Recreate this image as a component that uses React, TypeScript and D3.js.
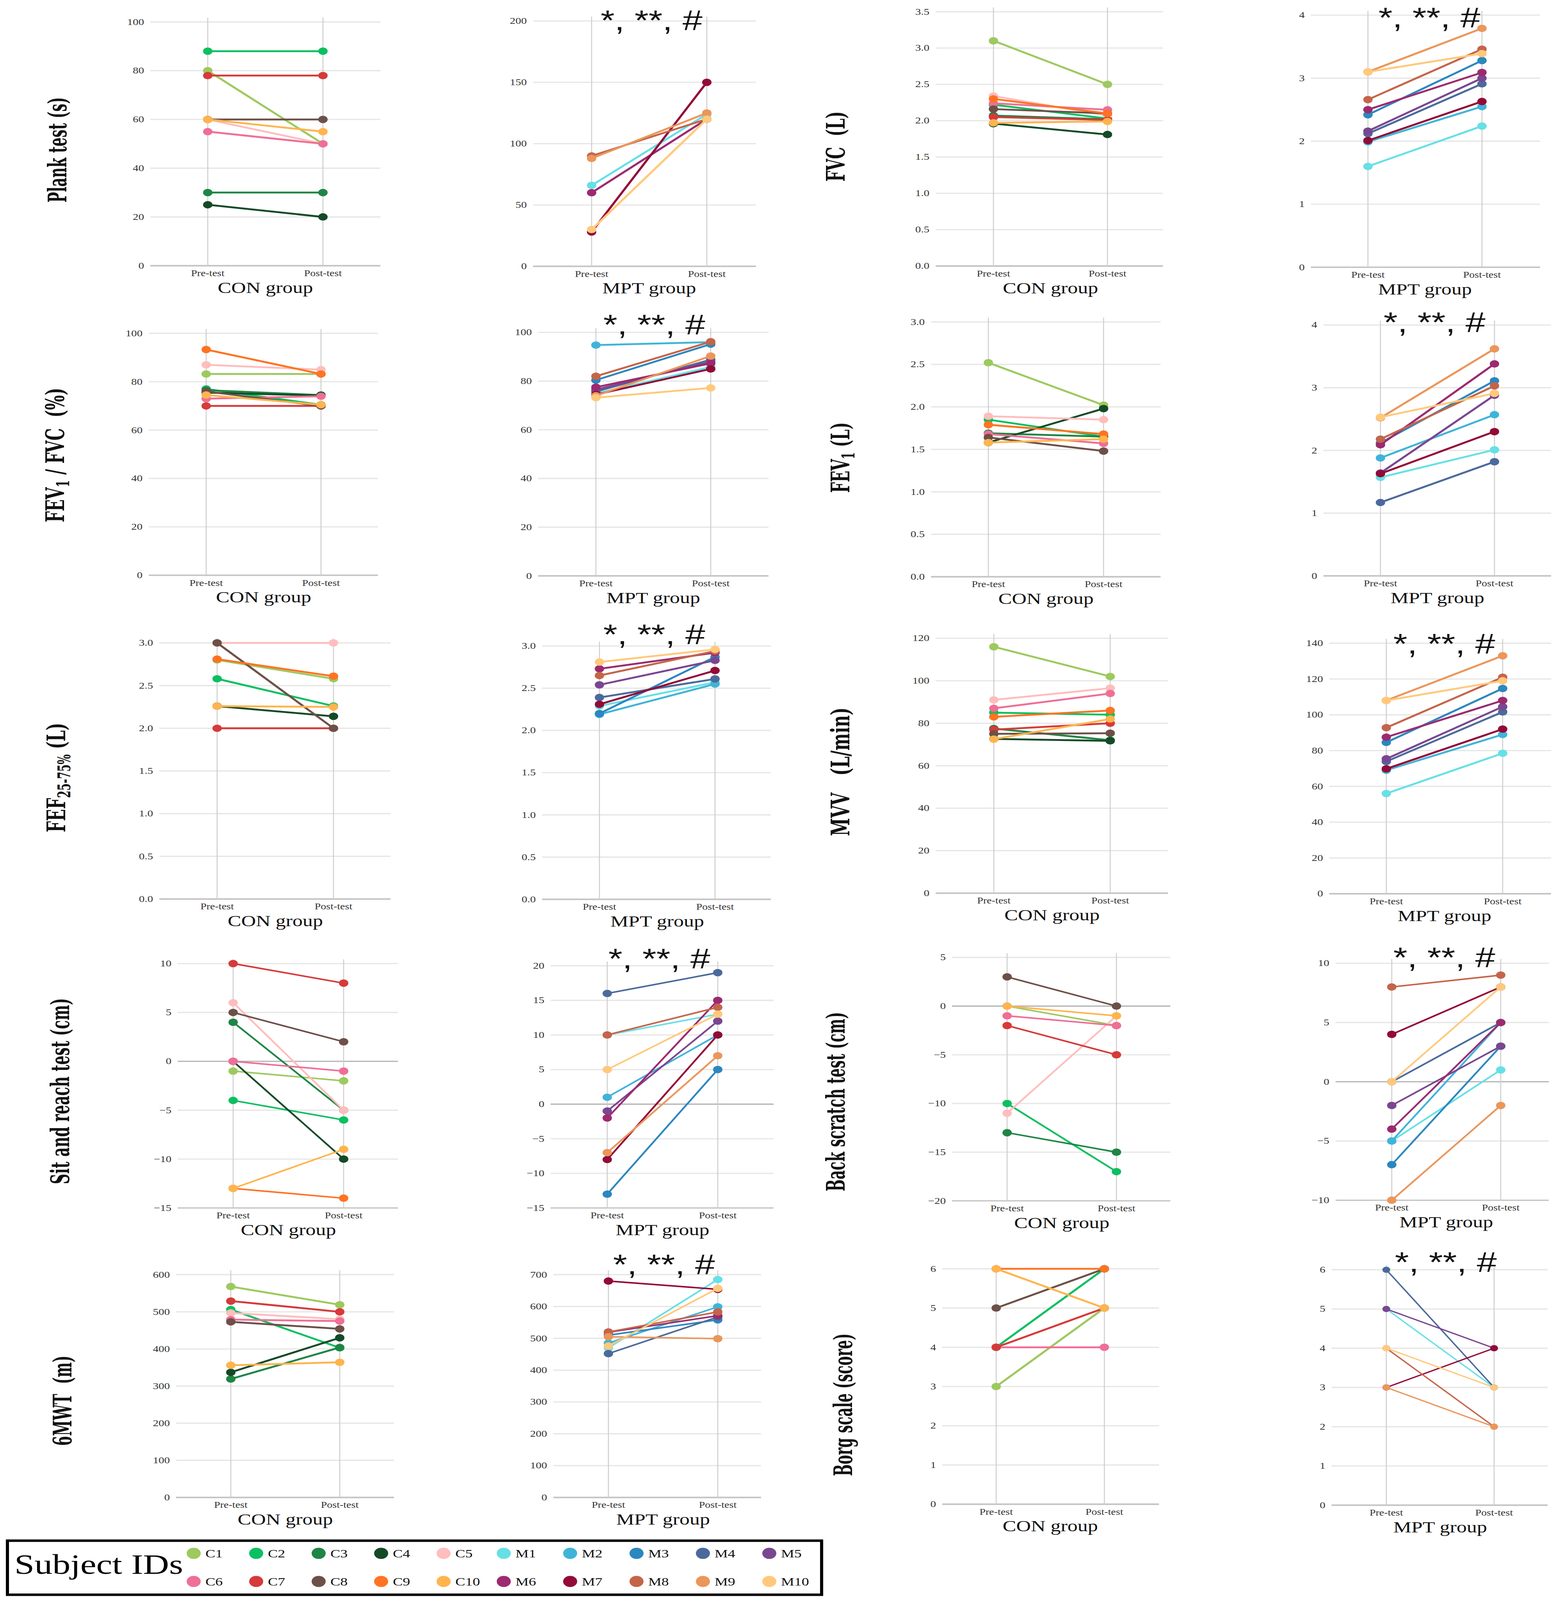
import React, { useEffect, useState } from "react";
import * as d3 from "d3";

// ---------- DATA ----------
const conIds = ["C1", "C2", "C3", "C4", "C5", "C6", "C7", "C8", "C9", "C10"];
const mptIds = ["M1", "M2", "M3", "M4", "M5", "M6", "M7", "M8", "M9", "M10"];
const timeLabels = ["Pre-test", "Post-test"];

const conColors = ["#9dc95e", "#0cbf60", "#1f8545", "#154a27", "#ffbdbd", "#ef6f96", "#d63a3a", "#6d5048", "#ff7322", "#ffb44d"];
const mptColors = ["#66e0e6", "#40b4d8", "#2b87bf", "#4b6a9b", "#7a4690", "#9c2a70", "#930a37", "#c4654a", "#eb965b", "#ffc97c"];

type V = number | null;

const plankConPre: V[] = [80, 88, 30, 25, 60, 55, 78, 60, null, 60];
const plankConPost: V[] = [50, 88, 30, 20, 50, 50, 78, 60, null, 55];
const plankMptPre: V[] = [66, null, null, null, null, 60, 28, 90, 88, 30];
const plankMptPost: V[] = [124, null, null, null, null, 120, 150, 120, 125, 120];

const fvcConPre: V[] = [3.1, 2.22, 2.07, 1.96, 2.34, 2.24, 2.05, 2.16, 2.3, 1.97];
const fvcConPost: V[] = [2.5, 2.03, 2.02, 1.81, 2.07, 2.15, 2.01, 2.1, 2.1, 1.99];
const fvcMptPre: V[] = [1.6, 1.99, 2.42, 2.12, 2.16, 2.5, 2.01, 2.66, 3.1, 3.1];
const fvcMptPost: V[] = [2.24, 2.55, 3.28, 2.91, 3.0, 3.09, 2.63, 3.46, 3.79, 3.39];

const ratioConPre: V[] = [83.2, 77, 76.5, 75.5, 87, 73, 70, 76, 93.3, 74.5];
const ratioConPost: V[] = [83.2, 70.5, 74.5, 74.3, 85, 74, 70, 70, 83.2, 70.5];
const ratioMptPre: V[] = [74.9, 94.8, 80.4, 75.7, 76.5, 77.5, 74.5, 82, 74, 73.2];
const ratioMptPost: V[] = [85.8, 96, 95.2, 88.8, 87.9, 87.3, 85, 96.2, 90.3, 77.2];

const fev1ConPre: V[] = [2.52, 1.85, 1.69, 1.58, 1.89, 1.68, null, 1.64, 1.79, 1.58];
const fev1ConPost: V[] = [2.02, 1.65, 1.65, 1.98, 1.85, 1.57, null, 1.48, 1.68, 1.62];
const fev1MptPre: V[] = [1.57, 1.88, 2.12, 1.17, 1.64, 2.09, 1.63, 2.18, 2.52, 2.53];
const fev1MptPost: V[] = [2.01, 2.57, 3.11, 1.82, 2.88, 3.38, 2.3, 3.03, 3.62, 2.91];

const fefConPre: V[] = [2.8, 2.58, null, 2.26, 3.0, null, 2.0, 3.0, 2.81, 2.26];
const fefConPost: V[] = [2.58, 2.26, null, 2.14, 3.0, null, 2.0, 2.0, 2.61, 2.25];
const fefMptPre: V[] = [2.29, 2.19, 2.2, 2.39, 2.54, 2.73, 2.31, 2.65, null, 2.81];
const fefMptPost: V[] = [2.57, 2.55, 2.87, 2.61, 2.83, 2.92, 2.71, 2.94, null, 2.96];

const mvvConPre: V[] = [116, 85, 77.5, 72.6, 91, 87, 77, 75, 83, 72.5];
const mvvConPost: V[] = [102, 84, 72, 71.7, 96.5, 94, 80, 75.3, 86, 82];
const mvvMptPre: V[] = [56, 69, 84.6, 73.9, 75.4, 87.5, 69.8, 92.8, 108, 108];
const mvvMptPost: V[] = [78.5, 89, 114.7, 101.6, 104.5, 108, 92, 121, 133, 119];

const srConPre: V[] = [-1, -4, 4, 0, 6, 0, 10, 5, -13, -13];
const srConPost: V[] = [-2, -6, -5, -10, -5, -1, 8, 2, -14, -9];
const srMptPre: V[] = [10, 1, -13, 16, -1, -2, -8, 10, -7, 5];
const srMptPost: V[] = [13, 10, 5, 19, 12, 15, 10, 14, 7, 13];

const bsConPre: V[] = [0, -10, -13, null, -11, -1, -2, 3, null, 0];
const bsConPost: V[] = [-2, -17, -15, null, -1, -2, -5, 0, null, -1];
const bsMptPre: V[] = [-5, -5, -7, 0, -2, -4, 4, 8, -10, 0];
const bsMptPost: V[] = [1, 5, 3, 5, 3, 5, 8, 9, -2, 8];

const mwtConPre: V[] = [568, 506, 319, 337, 497, 479, 529, 473, null, 356];
const mwtConPost: V[] = [519, 403, 404, 430, 480, 475, 500, 454, null, 364];
const mwtMptPre: V[] = [470, 485, 510, 452, null, 519, 680, 520, 505, 476];
const mwtMptPost: V[] = [685, 599, 558, 567, null, 571, 654, 583, 499, 657];

const borgConPre: V[] = [3, 4, null, null, null, 4, 4, 5, 6, 6];
const borgConPost: V[] = [5, 6, null, null, null, 4, 5, 6, 6, 5];
const borgMptPre: V[] = [5, null, null, 6, 5, null, 3, 4, 3, 4];
const borgMptPost: V[] = [3, null, null, 3, 4, null, 4, 2, 2, 3];

const annotationText = "*, **, #";

// ---------- LAYOUT (reference canvas 3982 x 5179) ----------
const W0 = 3982;
const H0 = 5179;

type PanelCfg = {
  ids: string[]; colors: string[]; pre: V[]; post: V[];
  domain: [number, number]; step: number; dec: number;
  x0: number; x1: number; xPre: number; xPost: number; yTop: number; yBottom: number;
  group: string; ann?: [number, number]; lw?: number; r?: number;
};

const C = { ids: conIds, colors: conColors, group: "CON group" };
const M = { ids: mptIds, colors: mptColors, group: "MPT group" };

const panels: PanelCfg[] = [
  { ...C, pre: plankConPre, post: plankConPost, domain: [0, 100], step: 20, dec: 0, x0: 385, x1: 974, xPre: 532, xPost: 827, yTop: 71, yBottom: 860 },
  { ...M, pre: plankMptPre, post: plankMptPost, domain: [0, 200], step: 50, dec: 0, x0: 1365, x1: 1936, xPre: 1515, xPost: 1810, yTop: 68, yBottom: 862, ann: [23, 29] },
  { ...C, pre: fvcConPre, post: fvcConPost, domain: [0, 3.5], step: 0.5, dec: 1, x0: 2396, x1: 2978, xPre: 2544, xPost: 2836, yTop: 38, yBottom: 861 },
  { ...M, pre: fvcMptPre, post: fvcMptPost, domain: [0, 4], step: 1, dec: 0, x0: 3357, x1: 3944, xPre: 3503, xPost: 3795, yTop: 49, yBottom: 865, ann: [27, 39] },

  { ...C, pre: ratioConPre, post: ratioConPost, domain: [0, 100], step: 20, dec: 0, x0: 381, x1: 968, xPre: 528, xPost: 822, yTop: 1079, yBottom: 1862 },
  { ...M, pre: ratioMptPre, post: ratioMptPost, domain: [0, 100], step: 20, dec: 0, x0: 1378, x1: 1968, xPre: 1526, xPost: 1820, yTop: 1076, yBottom: 1864, ann: [19, 6] },
  { ...C, pre: fev1ConPre, post: fev1ConPost, domain: [0, 3], step: 0.5, dec: 1, x0: 2384, x1: 2972, xPre: 2531, xPost: 2826, yTop: 1042, yBottom: 1867 },
  { ...M, pre: fev1MptPre, post: fev1MptPost, domain: [0, 4], step: 1, dec: 0, x0: 3389, x1: 3972, xPre: 3535, xPost: 3827, yTop: 1052, yBottom: 1864, ann: [8, 23] },

  { ...C, pre: fefConPre, post: fefConPost, domain: [0, 3], step: 0.5, dec: 1, x0: 408, x1: 1000, xPre: 556, xPost: 854, yTop: 2081, yBottom: 2910 },
  { ...M, pre: fefMptPre, post: fefMptPost, domain: [0, 3], step: 0.5, dec: 1, x0: 1388, x1: 1974, xPre: 1535, xPost: 1831, yTop: 2091, yBottom: 2911, ann: [10, -6] },
  { ...C, pre: mvvConPre, post: mvvConPost, domain: [0, 120], step: 20, dec: 0, x0: 2396, x1: 2991, xPre: 2545, xPost: 2843, yTop: 2066, yBottom: 2891 },
  { ...M, pre: mvvMptPre, post: mvvMptPost, domain: [0, 140], step: 20, dec: 0, x0: 3404, x1: 3972, xPre: 3550, xPost: 3848, yTop: 2082, yBottom: 2893, ann: [18, 33] },

  { ...C, pre: srConPre, post: srConPost, domain: [-15, 10], step: 5, dec: 0, x0: 455, x1: 1019, xPre: 597, xPost: 880, yTop: 3119, yBottom: 3910, lw: 5 },
  { ...M, pre: srMptPre, post: srMptPost, domain: [-15, 20], step: 5, dec: 0, x0: 1410, x1: 1981, xPre: 1555, xPost: 1838, yTop: 3126, yBottom: 3910, ann: [3, 9], lw: 5 },
  { ...C, pre: bsConPre, post: bsConPost, domain: [-20, 5], step: 5, dec: 0, x0: 2438, x1: 2997, xPre: 2579, xPost: 2859, yTop: 3099, yBottom: 3887, lw: 5 },
  { ...M, pre: bsMptPre, post: bsMptPost, domain: [-10, 10], step: 5, dec: 0, x0: 3420, x1: 3966, xPre: 3564, xPost: 3843, yTop: 3118, yBottom: 3885, ann: [4, 13], lw: 5 },

  { ...C, pre: mwtConPre, post: mwtConPost, domain: [0, 600], step: 100, dec: 0, x0: 451, x1: 1009, xPre: 591, xPost: 870, yTop: 4126, yBottom: 4847 },
  { ...M, pre: mwtMptPre, post: mwtMptPost, domain: [0, 700], step: 100, dec: 0, x0: 1417, x1: 1949, xPre: 1558, xPost: 1838, yTop: 4126, yBottom: 4847, ann: [12, -2], lw: 5 },
  { ...C, pre: borgConPre, post: borgConPost, domain: [0, 6], step: 1, dec: 0, x0: 2413, x1: 2968, xPre: 2551, xPost: 2828, yTop: 4107, yBottom: 4869 },
  { ...M, pre: borgMptPre, post: borgMptPost, domain: [0, 6], step: 1, dec: 0, x0: 3410, x1: 3963, xPre: 3550, xPost: 3826, yTop: 4110, yBottom: 4872, ann: [22, 7], lw: 4, r: 10 },
];

type TitleCfg = { cx: number; cy: number; len: number; parts: { t: string; sub?: boolean }[] };
const titles: TitleCfg[] = [
  { cx: 147, cy: 485, len: 341, parts: [{ t: "Plank test (s)" }] },
  { cx: 2140, cy: 474, len: 227, parts: [{ t: "FVC\u00a0\u00a0(L)" }] },
  { cx: 141, cy: 1473, len: 435, parts: [{ t: "FEV" }, { t: "1", sub: true }, { t: " / FVC\u00a0\u00a0(%)" }] },
  { cx: 2152, cy: 1481, len: 228, parts: [{ t: "FEV" }, { t: "1", sub: true }, { t: " (L)" }] },
  { cx: 144, cy: 2517, len: 354, parts: [{ t: "FEF" }, { t: "25-75%", sub: true }, { t: " (L)" }] },
  { cx: 2152, cy: 2498, len: 416, parts: [{ t: "MVV\u00a0\u00a0\u00a0(L/min)" }] },
  { cx: 154, cy: 3532, len: 602, parts: [{ t: "Sit and reach test (cm)" }] },
  { cx: 2140, cy: 3566, len: 580, parts: [{ t: "Back scratch test (cm)" }] },
  { cx: 160, cy: 4534, len: 292, parts: [{ t: "6MWT\u00a0\u00a0(m)" }] },
  { cx: 2159, cy: 4547, len: 462, parts: [{ t: "Borg scale (score)" }] },
];

const SERIF = "'Liberation Serif', 'DejaVu Serif', serif";
const BOLDSERIF = "'DejaVu Serif', 'Liberation Serif', serif";

function Panel({ p }: { p: PanelCfg }) {
  const y = d3.scaleLinear().domain(p.domain).range([p.yBottom, p.yTop]);
  const x = d3.scalePoint<string>().domain(timeLabels).range([p.xPre, p.xPost]);
  const ticks = d3.range(p.domain[0], p.domain[1] + p.step / 2, p.step);
  const fmt = p.dec ? d3.format(".1f") : d3.format("d");
  const line = d3.line<[string, number]>().x((d) => x(d[0]) as number).y((d) => y(d[1]));
  const lw = p.lw ?? 6;
  const r = p.r ?? 12;
  const cxMid = ((x("Pre-test") as number) + (x("Post-test") as number)) / 2;
  const subjects = p.ids
    .map((id, i) => ({ id, color: p.colors[i], a: p.pre[i], b: p.post[i] }))
    .filter((s) => s.a != null && s.b != null);
  return (
    <g>
      {ticks.map((t) => (
        <line key={"g" + t} x1={p.x0} x2={p.x1} y1={y(t)} y2={y(t)}
          stroke={t === 0 && p.domain[0] < 0 ? "#b4b4b4" : t === p.domain[0] ? "#c4c4c4" : "#e6e6e6"}
          strokeWidth={t === p.domain[0] && p.domain[0] === 0 ? 5 : 4} />
      ))}
      {timeLabels.map((l) => (
        <line key={"v" + l} x1={x(l)} x2={x(l)} y1={p.yTop - 14} y2={p.yBottom} stroke="#cdcdcd" strokeWidth={2.5} />
      ))}
      {ticks.map((t) => (
        <text key={"t" + t} x={p.x0 - 16} y={y(t)} textAnchor="end" dominantBaseline="central"
          fontFamily={SERIF} fontSize={29} fill="#333">{fmt(t)}</text>
      ))}
      {timeLabels.map((l) => (
        <text key={"l" + l} x={x(l)} y={p.yBottom + 34} textAnchor="middle" fontFamily={SERIF} fontSize={28} fill="#333">{l}</text>
      ))}
      <text x={cxMid} y={p.yBottom + 88} textAnchor="middle" fontFamily={SERIF} fontSize={52} fill="#111">{p.group}</text>
      {subjects.map((s) => (
        <g key={s.id}>
          <path d={line([["Pre-test", s.a as number], ["Post-test", s.b as number]]) as string}
            fill="none" stroke={s.color} strokeWidth={lw} strokeLinecap="round" />
          <circle cx={x("Pre-test")} cy={y(s.a as number)} r={r} fill={s.color} />
          <circle cx={x("Post-test")} cy={y(s.b as number)} r={r} fill={s.color} />
        </g>
      ))}
      {p.ann && (
        <text x={p.xPre + p.ann[0]} y={p.yTop + p.ann[1]} fontFamily="'Liberation Sans', Arial, sans-serif"
          fontSize={92} fill="#111">{annotationText}</text>
      )}
    </g>
  );
}

function Title({ t }: { t: TitleCfg }) {
  return (
    <text transform={`translate(${t.cx},${t.cy}) rotate(-90)`} textAnchor="middle" dominantBaseline="central"
      fontFamily={BOLDSERIF} fontWeight="bold" fontSize={66} fill="#111"
      textLength={t.len} lengthAdjust="spacingAndGlyphs">
      {t.parts.map((pt, i) =>
        pt.sub ? (
          <tspan key={i} fontSize={44} dy={20}>{pt.t}</tspan>
        ) : (
          <tspan key={i} dy={i > 0 && t.parts[i - 1].sub ? -20 : 0}>{pt.t}</tspan>
        )
      )}
    </text>
  );
}

function Legend() {
  const rows = [
    [...conIds.slice(0, 5).map((id, i) => ({ id, c: conColors[i] })), ...mptIds.slice(0, 5).map((id, i) => ({ id, c: mptColors[i] }))],
    [...conIds.slice(5).map((id, i) => ({ id, c: conColors[i + 5] })), ...mptIds.slice(5).map((id, i) => ({ id, c: mptColors[i + 5] }))],
  ];
  const colX = (k: number) => (k < 5 ? 496 + k * 160 : 1290 + (k - 5) * 170);
  const rowY = [5028, 5119];
  return (
    <g>
      <rect x={19} y={4987} width={2085} height={175} fill="#fff" stroke="#000" strokeWidth={8} />
      <text x={37} y={5094} fontFamily={SERIF} fontSize={92} fill="#000">Subject IDs</text>
      {rows.map((row, ri) =>
        row.map((it, k) => (
          <g key={it.id}>
            <circle cx={colX(k)} cy={rowY[ri]} r={18} fill={it.c} />
            <text x={colX(k) + 30} y={rowY[ri]} dominantBaseline="central" fontFamily={SERIF} fontSize={38} fill="#111">{it.id}</text>
          </g>
        ))
      )}
    </g>
  );
}

function useViewport() {
  const get = () => ({
    w: Math.min(window.innerWidth || W0, W0),
    h: Math.min(window.innerHeight || H0, H0),
  });
  const [vp, setVp] = useState(get);
  useEffect(() => {
    const on = () => setVp(get());
    window.addEventListener("resize", on);
    return () => window.removeEventListener("resize", on);
  }, []);
  return vp;
}

export default function App() {
  // The browser viewport may be shorter than the requested canvas; the
  // whole chart is fitted into it so that nothing is cut off.
  const vp = useViewport();
  return (
    <svg width={vp.w} height={vp.h} viewBox={`0 0 ${W0} ${H0}`} preserveAspectRatio="none"
      style={{ position: "absolute", left: 0, top: 0, display: "block", background: "#fff" }}>
      <rect x={0} y={0} width={W0} height={H0} fill="#fff" />
      {panels.map((p, i) => <Panel key={i} p={p} />)}
      {titles.map((t, i) => <Title key={i} t={t} />)}
      <Legend />
    </svg>
  );
}
